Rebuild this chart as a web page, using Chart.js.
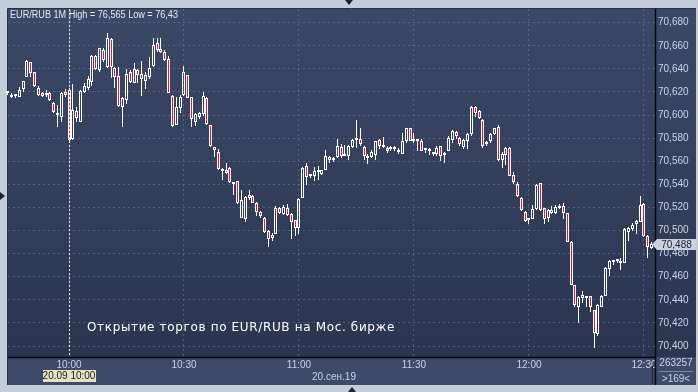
<!DOCTYPE html>
<html><head><meta charset="utf-8">
<script src="https://cdn.jsdelivr.net/npm/chart.js@4"></script>
<style>html,body{margin:0;padding:0;background:#c3cdda;overflow:hidden}canvas{display:block}</style>
</head><body>
<canvas id="c" width="698" height="392"></canvas>
<script>
const symbolTitle = 'EUR/RUB 1M High = 76,565 Low = 76,43';
const noteText = 'Открытие торгов по EUR/RUB на Мос. бирже';
const dateLabel = '20.сен.19';
const cursorLabel = '20.09 10:00';
const volumeLabel = '263257';
const firstMinute = -16; // first bar 09:44, minutes relative to 10:00
const xTickValues = [0, 30, 60, 90, 120, 150];
const xTickLabels = ['10:00', '10:30', '11:00', '11:30', '12:00', '12:30'];
const yTickValues = [70.40, 70.42, 70.44, 70.46, 70.48, 70.50, 70.52, 70.54, 70.56, 70.58, 70.60, 70.62, 70.64, 70.66, 70.68];

const opens = [
70.6197,70.6154,70.6165,70.6154,70.6223,70.6326,70.6459,70.6370,70.6237,70.6194,
70.6174,70.6194,70.6108,70.6021,70.5987,70.6200,70.6217,70.5791,70.6036,70.5943,
70.6200,70.6231,70.6289,70.6511,70.6390,70.6563,70.6413,70.6658,70.6410,70.6338,
70.6067,70.6131,70.6375,70.6280,70.6390,70.6352,70.6298,70.6326,70.6424,70.6626,
70.6571,70.6548,70.6485,70.6165,70.5912,70.6059,70.6174,70.6347,70.6154,70.5943,
70.5981,70.6010,70.6148,70.5914,70.5722,70.5684,70.5519,70.5499,70.5542,70.5421,
70.5427,70.5112,70.5098,70.5304,70.5295,70.5241,70.5161,70.5112,70.4992,70.4934,
70.4969,70.5198,70.5141,70.5198,70.5146,70.5092,70.5026,70.5278,70.5556,70.5470,
70.5470,70.5510,70.5490,70.5527,70.5636,70.5607,70.5636,70.5722,70.5648,70.5648,
70.5722,70.5785,70.5794,70.5722,70.5628,70.5636,70.5656,70.5785,70.5722,70.5713,
70.5705,70.5705,70.5693,70.5665,70.5779,70.5885,70.5777,70.5771,70.5771,70.5713,
70.5693,70.5671,70.5665,70.5734,70.5671,70.5693,70.5785,70.5854,70.5799,70.5722,
70.5779,70.5837,70.6066,70.6034,70.5957,70.5748,70.5771,70.5834,70.5900,70.5613,
70.5656,70.5713,70.5484,70.5407,70.5284,70.5161,70.5092,70.5103,70.5183,70.5409,
70.5194,70.5108,70.5156,70.5156,70.5214,70.5214,70.5148,70.4899,70.4526,70.4334,
70.4440,70.4420,70.4432,70.4311,70.4105,70.4340,70.4432,70.4669,70.4741,70.4738,
70.4732,70.4718,70.4985,70.5013,70.5056,70.5071,70.5234,70.4956,70.4850];
const highs = [
70.6210,70.6188,70.6182,70.6246,70.6295,70.6476,70.6462,70.6370,70.6252,70.6203,
70.6217,70.6203,70.6116,70.6087,70.6200,70.6223,70.6231,70.6269,70.6073,70.6217,
70.6275,70.6338,70.6519,70.6519,70.6577,70.6577,70.6712,70.6669,70.6413,70.6419,
70.6159,70.6396,70.6390,70.6453,70.6396,70.6470,70.6375,70.6505,70.6669,70.6663,
70.6669,70.6563,70.6511,70.6174,70.6154,70.6174,70.6424,70.6347,70.6159,70.6021,
70.6030,70.6200,70.6154,70.5914,70.5722,70.5704,70.5542,70.5585,70.5547,70.5421,
70.5427,70.5347,70.5298,70.5347,70.5304,70.5247,70.5169,70.5118,70.5003,70.4983,
70.5212,70.5204,70.5221,70.5226,70.5155,70.5092,70.5278,70.5547,70.5585,70.5490,
70.5547,70.5556,70.5527,70.5699,70.5642,70.5636,70.5791,70.5748,70.5742,70.5742,
70.5791,70.5957,70.5885,70.5728,70.5665,70.5699,70.5779,70.5794,70.5814,70.5728,
70.5728,70.5734,70.5713,70.5848,70.5885,70.5885,70.5848,70.5791,70.5791,70.5713,
70.5713,70.5676,70.5728,70.5734,70.5676,70.5820,70.5871,70.5860,70.5808,70.5791,
70.5842,70.6077,70.6077,70.6043,70.5963,70.5771,70.5848,70.5891,70.5914,70.5676,
70.5722,70.5722,70.5504,70.5418,70.5292,70.5169,70.5103,70.5218,70.5407,70.5414,
70.5199,70.5185,70.5214,70.5222,70.5228,70.5242,70.5148,70.4907,70.4526,70.4432,
70.4477,70.4432,70.4432,70.4311,70.4363,70.4440,70.4684,70.4747,70.4747,70.4747,
70.4764,70.5022,70.5028,70.5062,70.5091,70.5300,70.5242,70.4965,70.4899];
const lows = [
70.6172,70.6148,70.6148,70.6154,70.6203,70.6326,70.6332,70.6246,70.6165,70.6154,
70.6159,70.6125,70.6015,70.5894,70.5943,70.6159,70.5771,70.5785,70.5943,70.5943,
70.6194,70.6217,70.6252,70.6390,70.6375,70.6462,70.6404,70.6318,70.6231,70.6073,
70.5894,70.6096,70.6280,70.6275,70.6275,70.6165,70.6223,70.6309,70.6419,70.6545,
70.6540,70.6470,70.6188,70.5894,70.5912,70.6015,70.6165,70.6145,70.5894,70.5906,
70.5964,70.5992,70.5912,70.5727,70.5635,70.5526,70.5438,70.5490,70.5413,70.5307,
70.5226,70.5106,70.5077,70.5261,70.5238,70.5126,70.5112,70.4983,70.4854,70.4911,
70.4969,70.5141,70.5135,70.5126,70.4926,70.4954,70.4969,70.5278,70.5393,70.5456,
70.5427,70.5438,70.5479,70.5527,70.5585,70.5590,70.5628,70.5628,70.5642,70.5607,
70.5713,70.5713,70.5728,70.5607,70.5579,70.5628,70.5607,70.5705,70.5713,70.5671,
70.5685,70.5685,70.5665,70.5665,70.5756,70.5771,70.5756,70.5685,70.5685,70.5671,
70.5656,70.5648,70.5648,70.5599,70.5585,70.5685,70.5756,70.5791,70.5734,70.5705,
70.5705,70.5820,70.5986,70.5963,70.5713,70.5734,70.5762,70.5828,70.5599,70.5542,
70.5570,70.5470,70.5407,70.5292,70.5169,70.5075,70.5055,70.5098,70.5178,70.5171,
70.5056,70.5071,70.5142,70.5142,70.5185,70.5099,70.4899,70.4526,70.4340,70.4202,
70.4374,70.4334,70.4297,70.3982,70.4088,70.4334,70.4432,70.4604,70.4698,70.4718,
70.4661,70.4718,70.4913,70.4993,70.4970,70.5071,70.4942,70.4764,70.4841];
const closes = [
70.6194,70.6171,70.6171,70.6217,70.6295,70.6468,70.6361,70.6254,70.6174,70.6165,
70.6188,70.6131,70.6030,70.5998,70.6194,70.6174,70.5785,70.6044,70.5972,70.6208,
70.6252,70.6309,70.6511,70.6396,70.6577,70.6476,70.6669,70.6413,70.6332,70.6079,
70.6145,70.6355,70.6289,70.6396,70.6347,70.6309,70.6347,70.6404,70.6606,70.6563,
70.6548,70.6476,70.6188,70.5906,70.6073,70.6159,70.6372,70.6151,70.5966,70.6010,
70.6021,70.6165,70.5923,70.5733,70.5699,70.5532,70.5533,70.5527,70.5421,70.5407,
70.5241,70.5261,70.5289,70.5278,70.5238,70.5163,70.5126,70.4989,70.4926,70.4963,
70.5198,70.5155,70.5204,70.5135,70.5077,70.5020,70.5269,70.5542,70.5461,70.5479,
70.5513,70.5513,70.5522,70.5648,70.5607,70.5628,70.5734,70.5642,70.5656,70.5734,
70.5785,70.5799,70.5751,70.5648,70.5648,70.5676,70.5771,70.5728,70.5734,70.5693,
70.5713,70.5722,70.5676,70.5779,70.5885,70.5779,70.5791,70.5779,70.5693,70.5699,
70.5705,70.5659,70.5713,70.5648,70.5656,70.5799,70.5865,70.5820,70.5751,70.5785,
70.5834,70.6066,70.6020,70.5971,70.5734,70.5756,70.5837,70.5885,70.5607,70.5665,
70.5713,70.5476,70.5418,70.5298,70.5178,70.5083,70.5098,70.5189,70.5398,70.5177,
70.5099,70.5177,70.5177,70.5205,70.5194,70.5148,70.4899,70.4526,70.4354,70.4426,
70.4420,70.4426,70.4334,70.4116,70.4354,70.4432,70.4678,70.4735,70.4727,70.4741,
70.4718,70.5013,70.5022,70.5050,70.5085,70.5222,70.4950,70.4861,70.4880];

// ---- derived (positions via the scales) ----
const minutes = opens.map((_, k) => firstMinute + k);
const PX_PER_MIN = 3.8333;
const X_ZERO_PX = 69;            // where 10:00 sits
const AREA = {left: 8, right: 655, top: 8, bottom: 357};
const xMin = -(X_ZERO_PX - AREA.left) / PX_PER_MIN;
const xMax = xMin + (AREA.right - AREA.left) / PX_PER_MIN;
const yPx = (346 - 21.7) / 0.28;
const yMax = 70.68 + (21.7 - AREA.top) / yPx;
const yMin = 70.40 - (AREA.bottom - 346) / yPx;

const RED = '#e0163e';
const bodies = opens.map((o, k) => ({x: minutes[k], y: [o, closes[k]]}));
const upperWicks = opens.map((o, k) => { const t = Math.max(o, closes[k]); return {x: minutes[k], y: [t, Math.max(t, highs[k])]}; });
const lowerWicks = opens.map((o, k) => { const b = Math.min(o, closes[k]); return {x: minutes[k], y: [Math.min(b, lows[k]), b]}; });
const bodyFill = opens.map((o, k) => closes[k] >= o ? 'rgba(0,0,0,0)' : RED);

const fmt = v => v.toFixed(3).replace('.', ',');
const FONT = '"Liberation Sans", Arial, sans-serif';
const LABEL = '#c9d4e8';

function fitText(ctx, text, x, y, w, font, color, mode) {
  ctx.save();
  ctx.font = font;
  ctx.fillStyle = color;
  ctx.textBaseline = 'middle';
  ctx.textAlign = 'left';
  const m = ctx.measureText(text).width;
  if (mode === 'spacing' && 'letterSpacing' in ctx) {
    ctx.letterSpacing = ((w - m) / text.length).toFixed(2) + 'px';
    ctx.fillText(text, x, y);
  } else {
    ctx.translate(x, y);
    ctx.scale(w / m, 1);
    ctx.fillText(text, 0, 0);
  }
  ctx.restore();
}

// snap bars computed by the scales onto whole pixels so candles stay crisp
const snapPlugin = {
  id: 'snap',
  beforeDatasetsDraw(chart) {
    chart.data.datasets.forEach((ds, i) => {
      chart.getDatasetMeta(i).data.forEach(el => {
        el.x = Math.round(el.x - 0.5) + 0.5;
        el.y = Math.round(el.y);
        el.base = Math.round(el.base);
      });
    });
  }
};

const framePlugin = {
  id: 'frame',
  beforeDraw(chart) {
    const ctx = chart.ctx, a = chart.chartArea;
    ctx.save();
    ctx.fillStyle = '#c3cdda';
    ctx.fillRect(0, 0, chart.width, chart.height);
    ctx.fillStyle = '#3e4a67';
    ctx.fillRect(a.left, a.top, 696 - a.left, 385 - a.top);
    const g = ctx.createLinearGradient(0, a.top, 0, a.bottom);
    g.addColorStop(0, '#3b4866');
    g.addColorStop(1, '#2b3550');
    ctx.fillStyle = g;
    ctx.fillRect(a.left, a.top, 696 - a.left, a.bottom - a.top);
    ctx.strokeStyle = '#283043';
    ctx.lineWidth = 1;
    ctx.beginPath();
    ctx.moveTo(a.left - 0.5, 385); ctx.lineTo(a.left - 0.5, a.top - 0.5); ctx.lineTo(696, a.top - 0.5);
    ctx.stroke();
    ctx.restore();
  },
  afterDatasetsDraw(chart) {
    const ctx = chart.ctx, a = chart.chartArea, xs = chart.scales.x;
    const cx = Math.round(xs.getPixelForValue(0) - 0.5) + 0.5;
    ctx.save();
    ctx.strokeStyle = 'rgba(255,255,255,0.9)';
    ctx.lineWidth = 1;
    ctx.setLineDash([2, 2]);
    ctx.beginPath(); ctx.moveTo(cx, a.top); ctx.lineTo(cx, a.bottom); ctx.stroke();
    ctx.restore();
  },
  afterDraw(chart) {
    const ctx = chart.ctx, a = chart.chartArea, xs = chart.scales.x, ys = chart.scales.y;
    ctx.save();
    ctx.strokeStyle = '#06080c';
    ctx.lineWidth = 1.5;
    ctx.beginPath();
    ctx.moveTo(a.right + 0.5, a.top); ctx.lineTo(a.right + 0.5, 385);
    ctx.moveTo(a.left, a.bottom + 0.5); ctx.lineTo(a.right, a.bottom + 0.5);
    ctx.stroke();
    ctx.strokeStyle = '#1d2333'; ctx.lineWidth = 1;
    ctx.beginPath(); ctx.moveTo(652.5, 366); ctx.lineTo(652.5, 384); ctx.stroke();
    ctx.restore();

    fitText(ctx, symbolTitle, 10, 15, 168, '10px ' + FONT, '#e3e9f3');
    fitText(ctx, noteText, 87, 327.5, 308, '12px "DejaVu Sans", sans-serif', '#ffffff', 'spacing');

    const cx = xs.getPixelForValue(0);
    ctx.save();
    ctx.fillStyle = '#e6e2c4';
    ctx.fillRect(Math.round(cx) - 26, 370, 53, 12);
    ctx.fillStyle = '#1b1b1b';
    ctx.font = '10px ' + FONT;
    ctx.textAlign = 'center'; ctx.textBaseline = 'middle';
    ctx.fillText(cursorLabel, cx, 376.5);
    ctx.fillStyle = LABEL;
    ctx.fillText(dateLabel, 334, 377.5);
    ctx.fillText(volumeLabel, 676, 363.5);
    ctx.fillText('>' + closes.length + '<', 676, 379);
    ctx.strokeStyle = '#7d89a3'; ctx.lineWidth = 1;
    ctx.beginPath(); ctx.moveTo(659, 371.5); ctx.lineTo(693, 371.5); ctx.stroke();

    const last = closes[closes.length - 1];
    const py = ys.getPixelForValue(last);
    ctx.fillStyle = '#c9d1dd';
    ctx.beginPath();
    ctx.moveTo(652, py); ctx.lineTo(657, py - 5.5); ctx.lineTo(696, py - 5.5);
    ctx.lineTo(696, py + 5.5); ctx.lineTo(657, py + 5.5); ctx.closePath();
    ctx.fill();
    ctx.fillStyle = '#182034';
    ctx.fillText(fmt(last), 676.5, py + 0.5);

    ctx.fillStyle = '#1c2232';
    ctx.beginPath(); ctx.moveTo(345, 0); ctx.lineTo(353, 0); ctx.lineTo(349, 5); ctx.closePath(); ctx.fill();
    ctx.beginPath(); ctx.moveTo(348, 392); ctx.lineTo(356, 392); ctx.lineTo(352, 387); ctx.closePath(); ctx.fill();
    ctx.beginPath(); ctx.moveTo(0, 192); ctx.lineTo(0, 200); ctx.lineTo(5, 196); ctx.closePath(); ctx.fill();
    ctx.restore();
  }
};

const gridCommon = {color: 'rgba(125,140,172,0.45)', lineWidth: 1, drawTicks: false, offset: false};

new Chart(document.getElementById('c'), {
  type: 'bar',
  data: {
    datasets: [
      {data: bodies, backgroundColor: bodyFill, borderColor: '#ffffff', borderWidth: 1, borderSkipped: false,
       barThickness: 3, minBarLength: 2, grouped: false, inflateAmount: 0, order: 0, clip: 3},
      {data: upperWicks, backgroundColor: '#ffffff', borderWidth: 0, barThickness: 1, grouped: false, inflateAmount: 0, order: 1, clip: 3},
      {data: lowerWicks, backgroundColor: '#ffffff', borderWidth: 0, barThickness: 1, grouped: false, inflateAmount: 0, order: 1, clip: 3}
    ]
  },
  options: {
    responsive: false,
    devicePixelRatio: 1,
    animation: false,
    events: [],
    layout: {padding: {left: AREA.left, top: AREA.top, right: 698 - 40 - AREA.right, bottom: 392 - 28 - AREA.bottom}},
    plugins: {legend: {display: false}, tooltip: {enabled: false}},
    scales: {
      x: {
        type: 'linear', min: xMin, max: xMax, offset: false,
        grid: gridCommon,
        border: {display: false, dash: [2, 3]},
        afterBuildTicks: s => { s.ticks = xTickValues.map(v => ({value: v})); },
        afterFit: s => { s.height = 28; },
        ticks: {
          autoSkip: false, maxRotation: 0, padding: 2, color: LABEL,
          font: {family: FONT, size: 10},
          callback: v => xTickLabels[xTickValues.indexOf(v)]
        }
      },
      y: {
        type: 'linear', position: 'right', min: yMin, max: yMax, beginAtZero: false,
        grid: gridCommon,
        border: {display: false, dash: [2, 3]},
        afterBuildTicks: s => { s.ticks = yTickValues.map(v => ({value: v})); },
        afterFit: s => { s.width = 40; },
        ticks: {padding: 3, color: LABEL, font: {family: FONT, size: 10}, callback: v => fmt(v)}
      }
    }
  },
  plugins: [snapPlugin, framePlugin]
});
</script>
</body></html>
